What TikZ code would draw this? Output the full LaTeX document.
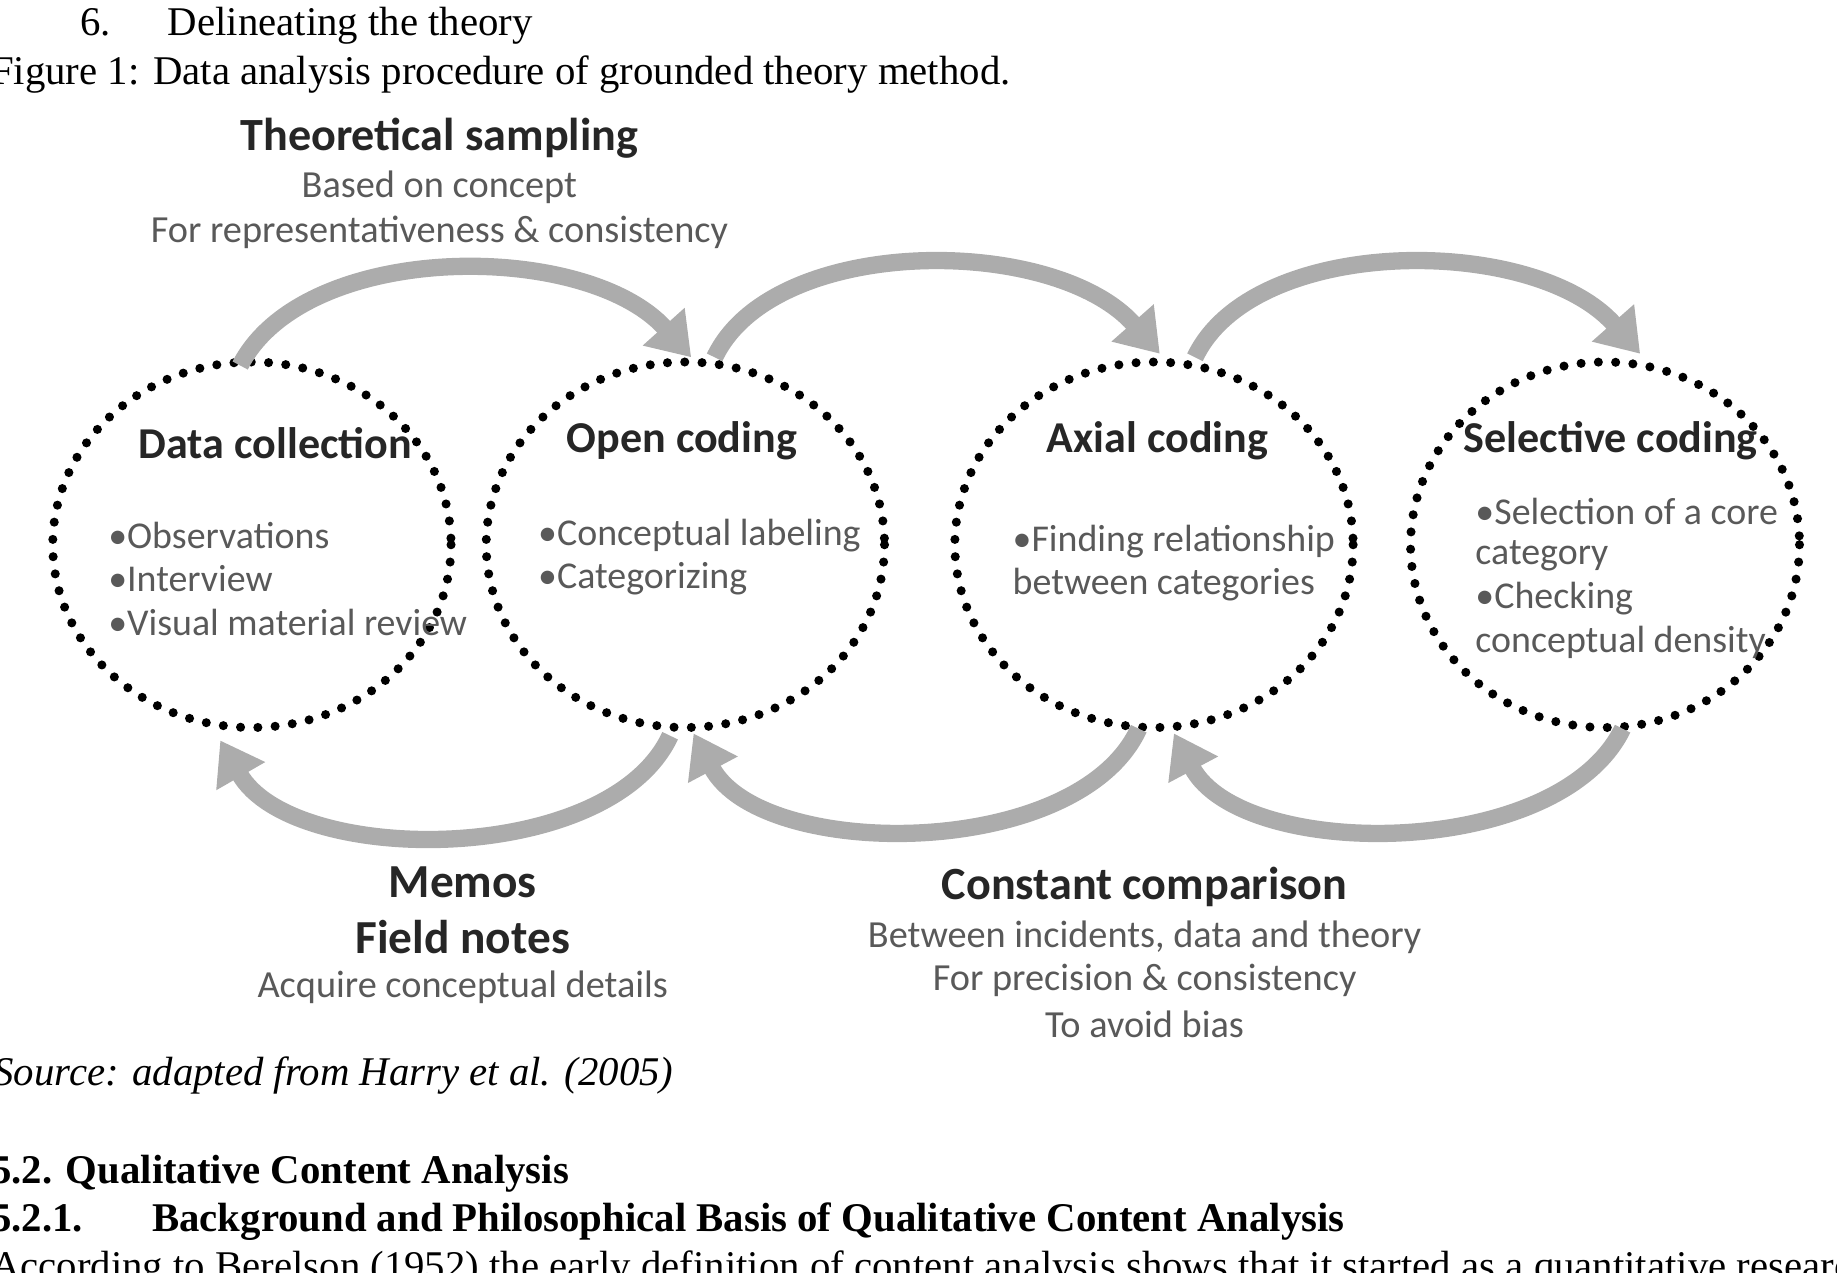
\documentclass[tikz,border=0pt]{standalone}
\usepackage{fontspec}
\usetikzlibrary{arrows.meta}
\setmainfont{Liberation Serif}
\newfontfamily\myCal{Carlito}
\begin{document}
\begin{tikzpicture}[x=0.01cm,y=-0.01cm,
 circ/.style={draw=black,line width=2.2pt,dash pattern=on 0pt off 4.2pt,line cap=round},
 arr/.style={draw=gray!65,line width=4.2pt,-{Triangle[width=13pt,length=10pt]}},
 ttl/.style={font=\myCal\bfseries\fontsize{10.7}{12}\selectfont,text=black!85},
 big/.style={font=\myCal\bfseries\fontsize{11.5}{13}\selectfont,text=black!85},
 sub/.style={font=\myCal\fontsize{9.3}{10}\selectfont,text=black!65},
 bul/.style={font=\myCal\fontsize{9.2}{10.5}\selectfont,text=black!65,anchor=west,align=left},
 body/.style={font=\fontsize{9.9}{11}\selectfont,anchor=west}]
\useasboundingbox (0,0) rectangle (1568,1086);
% body texts
\node[body] (l1) at (56,22) {6.\hspace{1.4em}Delineating the theory};
\node[body] (l2) at (-20,64) {Figure 1: Data analysis procedure of grounded theory method.};
\node[body,font=\itshape\fontsize{9.9}{11}\selectfont] (src) at (-18,918) {Source: adapted from Harry et al. (2005)};
\node[body,font=\bfseries\fontsize{9.9}{11}\selectfont] (h1) at (-20,1002) {5.2. Qualitative Content Analysis};
\node[body,font=\bfseries\fontsize{9.9}{11}\selectfont] (h2) at (-20,1043) {5.2.1.\hspace{1.7em}Background and Philosophical Basis of Qualitative Content Analysis};
\node[body] (h3) at (-20,1084) {According to Berelson (1952) the early definition of content analysis shows that it started as a quantitative research};
% circles
\coordinate (c1) at (215,465);
\coordinate (c2) at (585,465);
\coordinate (c3) at (985,465);
\coordinate (c4) at (1370,465);
\draw[circ] (c1) ellipse [x radius=170,y radius=156];
\draw[circ] (c2) ellipse [x radius=170,y radius=156];
\draw[circ] (c3) ellipse [x radius=170,y radius=156];
\draw[circ] (c4) ellipse [x radius=166,y radius=156];
% arrows top
\coordinate (t1a) at (205,312); \coordinate (t1b) at (590,305);
\coordinate (t2a) at (610,305); \coordinate (t2b) at (990,302);
\coordinate (t3a) at (1020,305); \coordinate (t3b) at (1400,302);
\draw[arr] (t1a) .. controls (260,205) and (500,205) .. (t1b);
\draw[arr] (t2a) .. controls (660,200) and (900,200) .. (t2b);
\draw[arr] (t3a) .. controls (1070,200) and (1310,200) .. (t3b);
% arrows bottom
\coordinate (b1a) at (572,628); \coordinate (b1b) at (188,632);
\coordinate (b2a) at (972,622); \coordinate (b2b) at (592,626);
\coordinate (b3a) at (1385,622); \coordinate (b3b) at (1002,626);
\draw[arr] (b1a) .. controls (520,740) and (250,740) .. (b1b);
\draw[arr] (b2a) .. controls (920,735) and (650,735) .. (b2b);
\draw[arr] (b3a) .. controls (1330,735) and (1060,735) .. (b3b);
% top texts
\node[ttl,font=\myCal\bfseries\fontsize{11.2}{12}\selectfont] (ts) at (375,118) {Theoretical sampling};
\node[sub] (ts1) at (375,160) {Based on concept};
\node[sub] (ts2) at (375,198) {For representativeness \& consistency};
% titles
\node[ttl] (n1) at (235,378) {Data collection};
\node[ttl] (n2) at (582,376) {Open coding};
\node[ttl] (n3) at (988,376) {Axial coding};
\node[ttl] (n4) at (1375,376) {Selective coding};
\node[bul] (d1) at (80,457) {•Observations};
\node[bul] (d2) at (80,494) {•Interview};
\node[bul] (d3) at (80,531) {•Visual material review};
\node[bul] (o1) at (447,457) {•Conceptual labeling};
\node[bul] (o2) at (447,494) {•Categorizing};
\node[bul] (a1) at (852,462) {•Finding relationship};
\node[bul] (a2) at (852,499) {between categories};
\node[bul] (s1) at (1247,437) {•Selection of a core};
\node[bul] (s2) at (1247,474) {category};
\node[bul] (s3) at (1247,511) {•Checking};
\node[bul] (s4) at (1247,548) {conceptual density};
% bottom texts
\node[big] (m1) at (395,753) {Memos};
\node[big] (m2) at (395,800) {Field notes};
\node[sub] (m3) at (395,843) {Acquire conceptual details};
\node[ttl,font=\myCal\bfseries\fontsize{11.2}{12}\selectfont] (cc) at (977,757) {Constant comparison};
\node[sub] (cc1) at (977,800) {Between incidents, data and theory};
\node[sub] (cc2) at (977,837) {For precision \& consistency};
\node[sub] (cc3) at (977,874) {To avoid bias};
\end{tikzpicture}
\end{document}
